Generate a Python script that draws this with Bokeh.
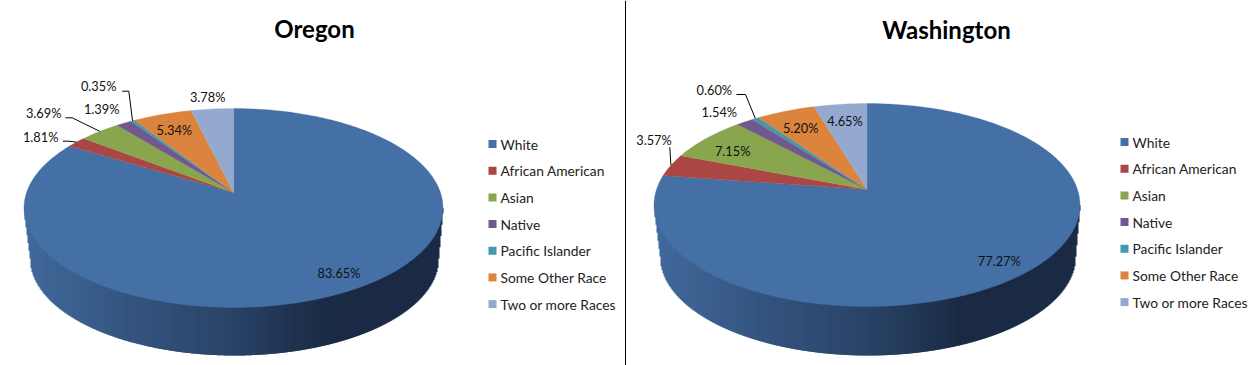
import numpy as np
from bokeh.core.properties import value
from bokeh.embed import file_html
from bokeh.models import Span
from bokeh.plotting import figure
from bokeh.resources import INLINE

# ---- data ----
categories = ["White", "African American", "Asian", "Native", "Pacific Islander",
              "Some Other Race", "Two or more Races"]
oregon_values = [83.65, 1.81, 3.69, 1.39, 0.35, 5.34, 3.78]
washington_values = [77.27, 3.57, 7.15, 1.54, 0.60, 5.20, 4.65]
slice_colors = ["#4470A6", "#AA4643", "#89A54E", "#71588F", "#4198AF", "#DB843D", "#93A9CF"]

# ---- layout of each panel (page pixels) ----
panels = [
    dict(title="Oregon", values=oregon_values, title_xy=(314, 28),
         left=23.5, right=442.5, top=108, apex=192, front=307,
         base_left=30, base_right=438, base_bottom=355,
         legend_x=488, legend_y=143.6,
         label_xy=[(338.5, 272), (40.2, 136.7), (43.2, 112.3), (101.2, 108.3),
                   (98.2, 85.7), (173.8, 129.3), (207.2, 96.7)],
         leaders={1: [(62.3, 140.7), (68.3, 140.7)],
                  2: [(65, 117.3), (71.7, 117.3)],
                  4: [(121.7, 90.7), (128.3, 90.7)]}),
    dict(title="Washington", values=washington_values, title_xy=(946, 29),
         left=653.5, right=1079.5, top=103, apex=189, front=306,
         base_left=660, base_right=1075, base_bottom=355,
         legend_x=1120, legend_y=141.6,
         label_xy=[(998.8, 260.7), (653.5, 139), (732.2, 150), (718.8, 111.7),
                   (713.8, 89.3), (800.2, 127.3), (844.5, 120.7)],
         leaders={1: [(669.3, 146.7)],
                  4: [(736, 94), (745, 94)]}),
]
# colour of the wall from its left edge to its right edge
wall_pos = [0.0, 0.25, 0.5, 0.72, 1.0]
wall_rgb = [(0x42, 0x6A, 0x9C), (0x35, 0x55, 0x80), (0x2A, 0x44, 0x68),
            (0x1A, 0x2B, 0x45), (0x1A, 0x2B, 0x45)]
FONT = "Lato"

p = figure(width=1259, height=365, x_range=(0, 1259), y_range=(365, 0),
           output_backend="svg", toolbar_location=None, min_border=0)
p.axis.visible = False
p.grid.visible = False
p.outline_line_color = None
p.background_fill_color = "white"


def rim(panel, fracs):
    cx = (panel["left"] + panel["right"]) / 2
    rx = (panel["right"] - panel["left"]) / 2
    up = panel["apex"] - panel["top"]
    down = panel["front"] - panel["apex"]
    k = (down - up) / (down + up)
    a = up * (1 + k)
    b = rx * np.sqrt(1 - k * k)
    ang = 2 * np.pi * np.asarray(fracs)
    w = 1 + k * np.cos(ang)
    return cx + b * np.sin(ang) / w, panel["apex"] - a * np.cos(ang) / w


for g in panels:
    cx = (g["left"] + g["right"]) / 2
    rx = (g["right"] - g["left"]) / 2
    ry = (g["front"] - g["top"]) / 2
    cy = (g["front"] + g["top"]) / 2
    # wall: vertical columns between the top ellipse's centre line and the lower hull
    brx = (g["base_right"] - g["base_left"]) / 2
    bry = ry * brx / rx
    bcy = g["base_bottom"] - bry
    bcx = (g["base_right"] + g["base_left"]) / 2
    t = np.linspace(0, np.pi, 361)
    lower_x = bcx + brx * np.cos(t)
    lower_y = bcy + bry * np.sin(t)
    order = np.argsort(lower_x)
    hx = np.r_[g["left"], lower_x[order], g["right"]]
    hy = np.r_[cy, lower_y[order], cy]
    xs = np.arange(np.ceil(g["left"]) + 1, g["right"], 1.0)
    ys = np.interp(xs, hx, hy)
    fr = (xs - g["left"]) / (g["right"] - g["left"])
    cols = ["#%02x%02x%02x" % tuple(int(np.interp(f, wall_pos, [c[j] for c in wall_rgb]))
                                    for j in range(3)) for f in fr]
    p.segment(xs, [cy] * len(xs), xs, ys, line_color=cols, line_width=2, line_cap="butt")

    # top face slices
    vals = np.array(g["values"], dtype=float)
    edges = np.r_[0, np.cumsum(vals)] / vals.sum()
    sx, sy = [], []
    for i in range(len(vals)):
        n = max(3, int((edges[i + 1] - edges[i]) * 360))
        x, y = rim(g, np.linspace(edges[i], edges[i + 1], n))
        sx.append(np.r_[cx, x].tolist())
        sy.append(np.r_[g["apex"], y].tolist())
    p.patches(sx, sy, fill_color=slice_colors, line_color=slice_colors, line_width=0.3)

    # leader lines end on the rim at the middle of their slice
    mids = (edges[:-1] + edges[1:]) / 2
    for i, pts in g["leaders"].items():
        mx, my = rim(g, [mids[i]])
        lx = [q[0] for q in pts] + [float(mx[0])]
        ly = [q[1] for q in pts] + [float(my[0])]
        p.line(lx, ly, line_color="black", line_width=1)

    # data labels
    p.text([q[0] for q in g["label_xy"]], [q[1] for q in g["label_xy"]],
           text=["%.2f%%" % v for v in g["values"]],
           text_font=value(FONT), text_font_size="12.8px", text_color="#111111",
           text_align="center", text_baseline="middle")

    # title
    p.text([g["title_xy"][0]], [g["title_xy"][1]], text=[g["title"]],
           text_font=value(FONT), text_font_size="24px", text_font_style="bold",
           text_color="black", text_align="center", text_baseline="middle")

    # legend
    rows = g["legend_y"] + 26.67 * np.arange(len(categories))
    p.rect([g["legend_x"] + 4] * len(categories), rows, width=8, height=8,
           fill_color=slice_colors, line_color=None)
    p.text([g["legend_x"] + 12] * len(categories), rows, text=categories,
           text_font=value(FONT), text_font_size="13.8px", text_color="#222222",
           text_align="left", text_baseline="middle")

p.add_layout(Span(location=625, dimension="height", line_color="black", line_width=1))

open("out.html", "w").write(file_html(p, INLINE))
